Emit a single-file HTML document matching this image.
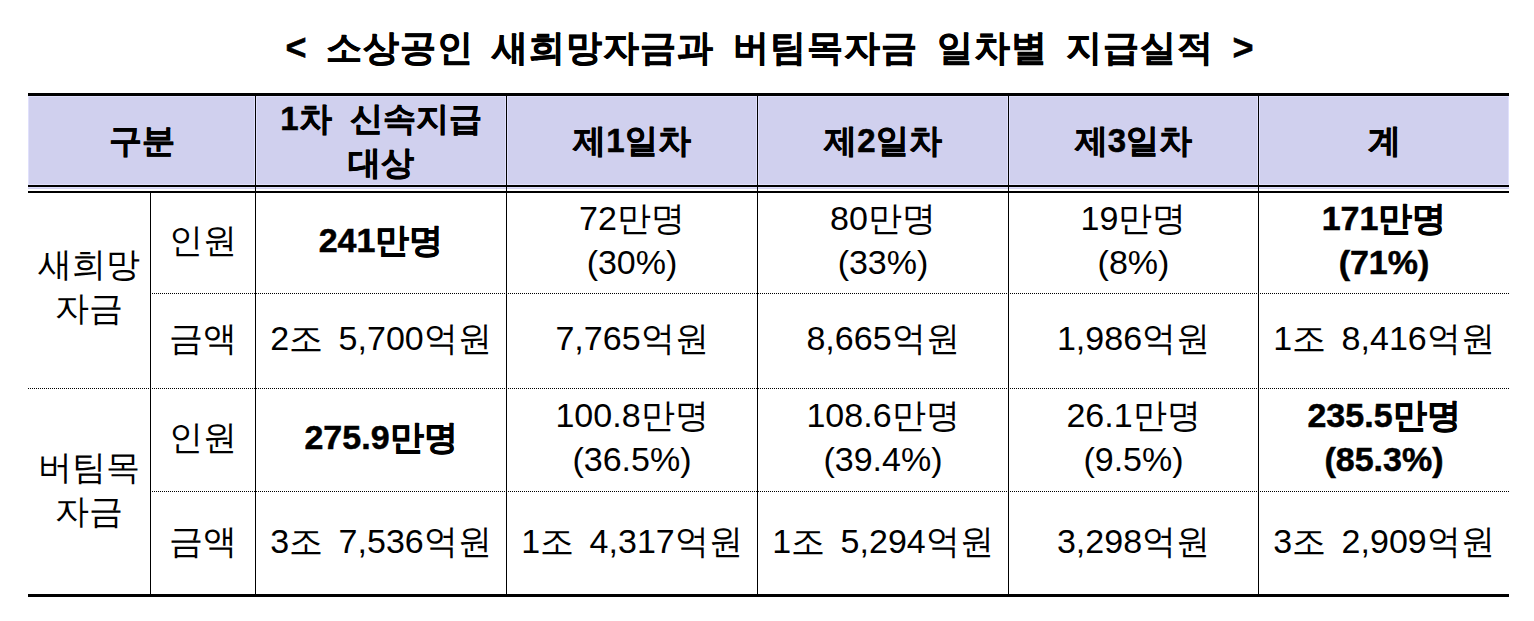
<!DOCTYPE html>
<html lang="ko">
<head>
<meta charset="utf-8">
<title>소상공인 새희망자금과 버팀목자금 일차별 지급실적</title>
<style>
  html, body { margin: 0; padding: 0; background: #ffffff; }
  body {
    width: 1534px; height: 621px; position: relative; overflow: hidden;
    font-family: "Liberation Sans", sans-serif; color: #000;
  }
  .title {
    position: absolute; left: 0; top: 22px; width: 1534px; height: 52px;
    line-height: 52px; text-align: center; font-weight: bold;
    font-size: 36px; white-space: nowrap; word-spacing: 7.5px; letter-spacing: 1px; padding-left: 6px; -webkit-text-stroke: 0.5px #000; box-sizing: border-box;
  }
  .hl { position: absolute; left: 28px; width: 1481px; background: #000; }
  .vl { position: absolute; width: 1px; background: #000; }
  .dot {
    position: absolute; height: 1px;
    background-image: repeating-linear-gradient(to right, #000 0, #000 1px, transparent 1px, transparent 2px);
  }
  .hdbg { position: absolute; left: 28px; top: 96px; width: 1481px; height: 93px; background: #d0d0ee; }
  .c {
    position: absolute; display: flex; align-items: center; justify-content: center;
    text-align: center; white-space: nowrap; font-size: 34px; line-height: 44px;
    box-sizing: border-box; padding-bottom: 7px; word-spacing: 6px;
  }
  .h { font-weight: bold; font-size: 33px; line-height: 44px; padding-bottom: 0; word-spacing: 9px; -webkit-text-stroke: 0.5px #000; box-shadow: inset 0 0 0 1px #e0e0fc; }
  .r4 { padding-bottom: 5px; }
  .g1 { padding-bottom: 10px; }
  .g2 { padding-bottom: 6px; }
  .b { font-weight: bold; -webkit-text-stroke: 0.5px #000; }
</style>
</head>
<body>
  <div class="title">&lt; 소상공인 새희망자금과 버팀목자금 일차별 지급실적 &gt;</div>

  <div class="hdbg"></div>

  <!-- horizontal rules -->
  <div class="hl" style="top:93px;height:3px"></div>
  <div class="hl" style="top:185px;height:2px"></div>
  <div class="hl" style="top:187px;height:1px;background:#dedefb"></div>
  <div class="hl" style="top:189px;height:2px;background:#fff"></div>
  <div class="hl" style="top:191px;height:2px"></div>
  <div class="hl" style="top:594px;height:3px"></div>
  <div class="dot" style="left:152px;top:293px;width:1357px"></div>
  <div class="dot" style="left:28px;top:388px;width:1481px"></div>
  <div class="dot" style="left:152px;top:491px;width:1357px"></div>

  <!-- vertical rules -->
  <div class="vl" style="left:150px;top:193px;height:401px"></div>
  <div class="vl" style="left:255px;top:96px;height:498px"></div>
  <div class="vl" style="left:506px;top:96px;height:498px"></div>
  <div class="vl" style="left:757px;top:96px;height:498px"></div>
  <div class="vl" style="left:1008px;top:96px;height:498px"></div>
  <div class="vl" style="left:1258px;top:96px;height:498px"></div>

  <!-- header -->
  <div class="c h" style="left:28px;top:96px;width:227px;height:89px">구분</div>
  <div class="c h" style="left:256px;top:96px;width:250px;height:89px">1차 신속지급<br>대상</div>
  <div class="c h" style="left:507px;top:96px;width:250px;height:89px">제1일차</div>
  <div class="c h" style="left:758px;top:96px;width:250px;height:89px">제2일차</div>
  <div class="c h" style="left:1009px;top:96px;width:249px;height:89px">제3일차</div>
  <div class="c h" style="left:1259px;top:96px;width:250px;height:89px">계</div>

  <!-- group labels -->
  <div class="c g1" style="left:28px;top:193px;width:122px;height:195px">새희망<br>자금</div>
  <div class="c g2" style="left:28px;top:389px;width:122px;height:205px">버팀목<br>자금</div>

  <!-- row 1 -->
  <div class="c" style="left:151px;top:193px;width:104px;height:100px">인원</div>
  <div class="c b" style="left:256px;top:193px;width:250px;height:100px">241만명</div>
  <div class="c" style="left:507px;top:193px;width:250px;height:100px">72만명<br>(30%)</div>
  <div class="c" style="left:758px;top:193px;width:250px;height:100px">80만명<br>(33%)</div>
  <div class="c" style="left:1009px;top:193px;width:249px;height:100px">19만명<br>(8%)</div>
  <div class="c b" style="left:1259px;top:193px;width:250px;height:100px">171만명<br>(71%)</div>

  <!-- row 2 -->
  <div class="c" style="left:151px;top:294px;width:104px;height:94px">금액</div>
  <div class="c" style="left:256px;top:294px;width:250px;height:94px">2조 5,700억원</div>
  <div class="c" style="left:507px;top:294px;width:250px;height:94px">7,765억원</div>
  <div class="c" style="left:758px;top:294px;width:250px;height:94px">8,665억원</div>
  <div class="c" style="left:1009px;top:294px;width:249px;height:94px">1,986억원</div>
  <div class="c" style="left:1259px;top:294px;width:250px;height:94px">1조 8,416억원</div>

  <!-- row 3 -->
  <div class="c" style="left:151px;top:389px;width:104px;height:102px">인원</div>
  <div class="c b" style="left:256px;top:389px;width:250px;height:102px">275.9만명</div>
  <div class="c" style="left:507px;top:389px;width:250px;height:102px">100.8만명<br>(36.5%)</div>
  <div class="c" style="left:758px;top:389px;width:250px;height:102px">108.6만명<br>(39.4%)</div>
  <div class="c" style="left:1009px;top:389px;width:249px;height:102px">26.1만명<br>(9.5%)</div>
  <div class="c b" style="left:1259px;top:389px;width:250px;height:102px">235.5만명<br>(85.3%)</div>

  <!-- row 4 -->
  <div class="c r4" style="left:151px;top:492px;width:104px;height:102px">금액</div>
  <div class="c r4" style="left:256px;top:492px;width:250px;height:102px">3조 7,536억원</div>
  <div class="c r4" style="left:507px;top:492px;width:250px;height:102px">1조 4,317억원</div>
  <div class="c r4" style="left:758px;top:492px;width:250px;height:102px">1조 5,294억원</div>
  <div class="c r4" style="left:1009px;top:492px;width:249px;height:102px">3,298억원</div>
  <div class="c r4" style="left:1259px;top:492px;width:250px;height:102px">3조 2,909억원</div>
</body>
</html>
